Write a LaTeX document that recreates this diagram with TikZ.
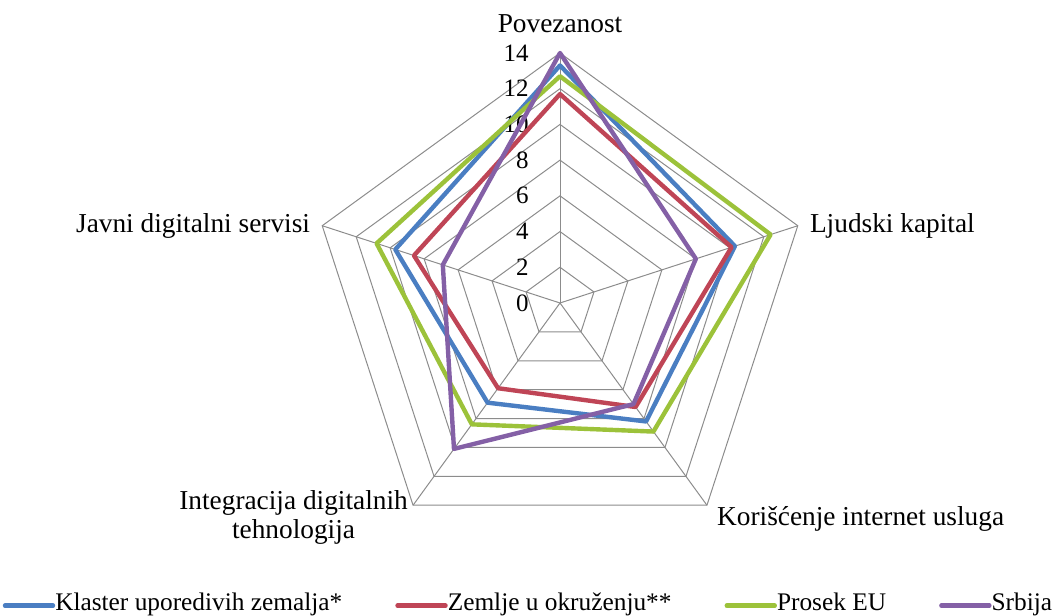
\documentclass[tikz,border=0pt]{standalone}
\usepackage{fontspec}
\setmainfont{Liberation Serif}
\usetikzlibrary{positioning}

\definecolor{klaster}{HTML}{4A7EC2}
\definecolor{okruzenje}{HTML}{BF4556}
\definecolor{prosekeu}{HTML}{9CC23A}
\definecolor{srbija}{HTML}{8460A6}

\tikzset{
	grid/.style={draw=black!45, line width=0.75pt},
	series/.style={line width=3.3pt, line join=round},
	legline/.style={line width=3.3pt, line cap=round},
	axislabel/.style={font=\fontsize{20.5}{21.75}\selectfont, inner sep=0pt},
	ticklabel/.style={font=\fontsize{18.75}{20}\selectfont, inner sep=0pt, anchor=east},
	legendtext/.style={font=\fontsize{19}{21}\selectfont, inner sep=0pt, anchor=base west}
}

\begin{document}
\begin{tikzpicture}[x=0.75pt, y=0.75pt]
	\useasboundingbox (0,0) rectangle (1058,616);
	\coordinate (O) at (560,313);
	% radar in data units: 14 = 250px
	\begin{scope}[shift={(O)}, x=13.393pt, y=13.393pt]
		\foreach \a [count=\i] in {90,18,-54,-126,162}
			\coordinate (v\i) at (\a:14);
		\foreach \r in {2,4,...,14}
			\draw[grid] (90:\r) -- (18:\r) -- (-54:\r) -- (-126:\r) -- (162:\r) -- cycle;
		\foreach \i in {1,...,5}
			\draw[grid] (O) -- (v\i);
		\foreach \v in {0,2,...,14}
			\node[ticklabel] (t\v) at (-1.74,\v) {\v};
		% series
		\foreach \col/\va/\vb/\vc/\vd/\ve in {klaster/13.3/10.3/8.2/6.9/9.7,
				okruzenje/11.7/10.1/7.2/5.9/8.6, prosekeu/12.7/12.4/8.9/8.4/10.8,
				srbija/14.0/8.0/7.0/10.1/6.9}
			\draw[series, \col] (90:\va) -- (18:\vb) -- (-54:\vc) -- (-126:\vd) -- (162:\ve) -- cycle;
	\end{scope}

	\node[axislabel, above=15pt of v1] (povezanost) {Povezanost};
	\node[axislabel, right=9pt of v2] (kapital) {Ljudski kapital};
	\node[axislabel, below right=0.75pt and 7.5pt of v3] (koriscenje) {Korišćenje internet usluga};
	\node[axislabel, align=center, anchor=north east] (integracija) at ([xshift=-3.75pt, yshift=11.25pt]v4) {Integracija digitalnih\\tehnologija};
	\node[axislabel, left=9pt of v5] (servisi) {Javni digitalni servisi};

	% legend
	\node[legendtext] (lklaster) at (55,5) {Klaster uporedivih zemalja*};
	\node[legendtext] (lokruzenje) at ([xshift=78.75pt]lklaster.base east) {Zemlje u okruženju**};
	\node[legendtext] (lprosek) at ([xshift=78.75pt]lokruzenje.base east) {Prosek EU};
	\node[legendtext] (lsrbija) at ([xshift=78.75pt]lprosek.base east) {Srbija};
	\foreach \n/\col in {lklaster/klaster, lokruzenje/okruzenje, lprosek/prosekeu, lsrbija/srbija}
		\draw[legline, \col] ([xshift=-37.5pt, yshift=4pt]\n.base west) -- ([xshift=-1.5pt, yshift=4pt]\n.base west);
\end{tikzpicture}
\end{document}
